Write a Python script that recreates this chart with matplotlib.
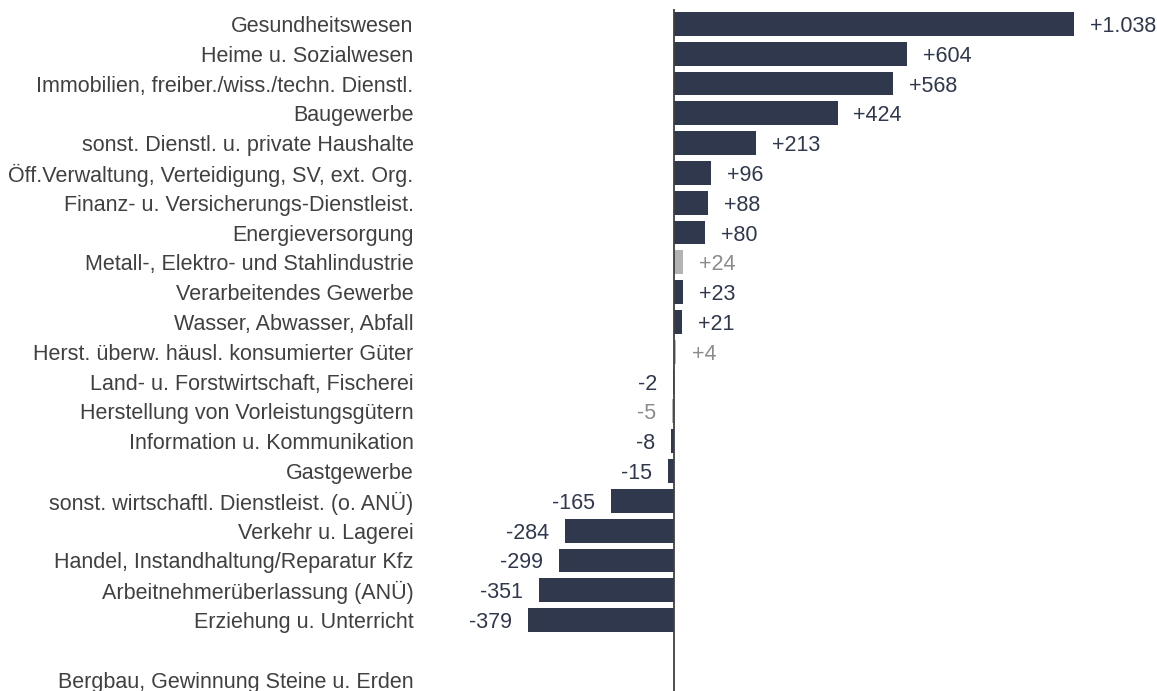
import matplotlib.pyplot as plt
import numpy as np

plt.rcParams['font.family'] = ['Liberation Sans', 'DejaVu Sans']

# Data
categories = [
    'Gesundheitswesen',
    'Heime u. Sozialwesen',
    'Immobilien, freiber./wiss./techn. Dienstl.',
    'Baugewerbe',
    'sonst. Dienstl. u. private Haushalte',
    'Öff.Verwaltung, Verteidigung, SV, ext. Org.',
    'Finanz- u. Versicherungs-Dienstleist.',
    'Energieversorgung',
    'Metall-, Elektro- und Stahlindustrie',
    'Verarbeitendes Gewerbe',
    'Wasser, Abwasser, Abfall',
    'Herst. überw. häusl. konsumierter Güter',
    'Land- u. Forstwirtschaft, Fischerei',
    'Herstellung von Vorleistungsgütern',
    'Information u. Kommunikation',
    'Gastgewerbe',
    'sonst. wirtschaftl. Dienstleist. (o. ANÜ)',
    'Verkehr u. Lagerei',
    'Handel, Instandhaltung/Reparatur Kfz',
    'Arbeitnehmerüberlassung (ANÜ)',
    'Erziehung u. Unterricht',
    '',
    'Bergbau, Gewinnung Steine u. Erden',
]
values = [1038, 604, 568, 424, 213, 96, 88, 80, 24, 23, 21, 4,
          -2, -5, -8, -15, -165, -284, -299, -351, -379, None, None]
# sub-sectors shown in grey
grey = ['Metall-, Elektro- und Stahlindustrie',
        'Herst. überw. häusl. konsumierter Güter',
        'Herstellung von Vorleistungsgütern']

navy = '#30384d'
light = '#b3b3b3'
grey_text = '#8c8c8c'
fs = 15.5

fig = plt.figure(figsize=(11.57, 6.91), dpi=100)
ax = fig.add_axes([424 / 1157, 0, 1 - 424 / 1157, (691 - 9) / 691])

y = np.arange(len(categories))
vals = np.array([np.nan if v is None else v for v in values], dtype=float)
colors = [light if c in grey else navy for c in categories]
ax.barh(y, np.nan_to_num(vals), height=0.8, color=colors)

for yi, v, c in zip(y, values, categories):
    if v is None:
        continue
    txt = f'+{v:,}'.replace(',', '.') if v > 0 else f'{v}'
    col = grey_text if c in grey else navy
    if v >= 0:
        ax.annotate(txt, (v, yi), xytext=(11.5, 0), textcoords='offset points',
                    ha='left', va='center_baseline', fontsize=fs, color=col)
    else:
        ax.annotate(txt, (v, yi), xytext=(-11.5, 0), textcoords='offset points',
                    ha='right', va='center_baseline', fontsize=fs, color=col)

ax.axvline(0, color='#404040', linewidth=1.3)
ax.set_xlim(-649, 1253)
ax.set_ylim(22.38, -0.5)
ax.set_yticks(y)
ax.set_yticklabels(categories, fontsize=fs, color='#404040')
ax.tick_params(axis='y', length=0, pad=7.5)
ax.set_xticks([])
for s in ax.spines.values():
    s.set_visible(False)

fig.savefig('out.png', dpi=100)
